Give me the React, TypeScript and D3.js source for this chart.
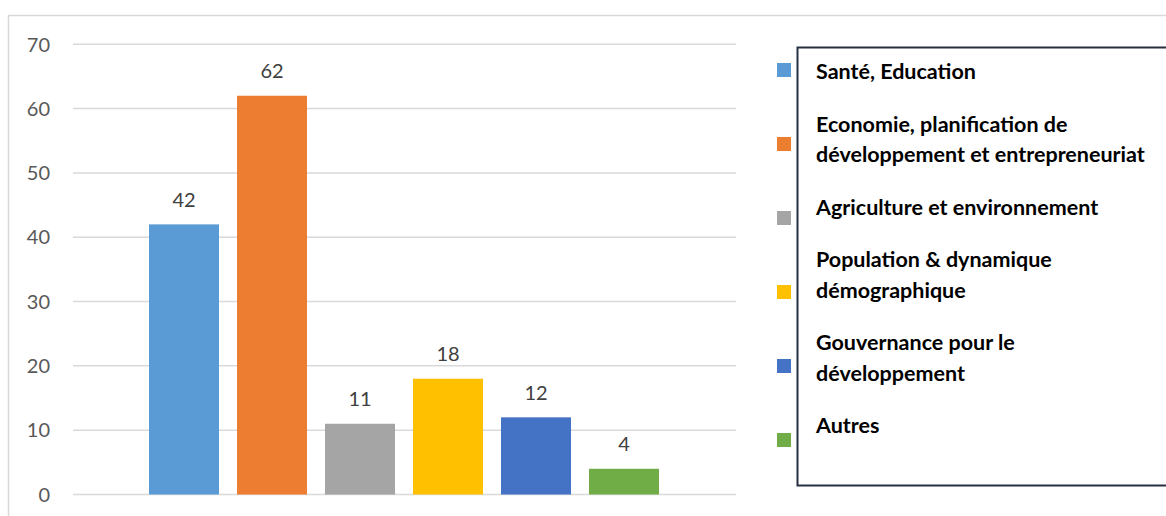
import React from "react";
import * as d3 from "d3";

const categories = [
  "Santé, Education",
  "Economie, planification de développement et entrepreneuriat",
  "Agriculture et environnement",
  "Population & dynamique démographique",
  "Gouvernance pour le développement",
  "Autres",
];
const legendLines = [
  ["Santé, Education"],
  ["Economie, planification de", "développement et entrepreneuriat"],
  ["Agriculture et environnement"],
  ["Population & dynamique", "démographique"],
  ["Gouvernance pour le", "développement"],
  ["Autres"],
];
const values = [42, 62, 11, 18, 12, 4];
const colors = ["#5B9BD5", "#ED7D31", "#A5A5A5", "#FFC000", "#4472C4", "#70AD47"];
const yTicks = [0, 10, 20, 30, 40, 50, 60, 70];

export default function App() {
  const W = 1166, H = 516;
  const plotL = 73, plotR = 736;
  const y = d3.scaleLinear().domain([0, 70]).range([494.5, 44.3]);
  const x = d3.scaleBand<string>().domain(categories).range([149, 659]).paddingInner(18 / 88).paddingOuter(0);
  const legY = d3.scaleLinear().domain([0, 5]).range([70, 440]);
  const font = "Lato, 'Open Sans', sans-serif";
  const lh = 30.5, gap = 52.5;
  let base = 79;
  const baselines: number[][] = legendLines.map((lines) => {
    const b = lines.map((_, j) => base + j * lh);
    base = b[b.length - 1] + gap;
    return b;
  });
  return (
    <svg width={W} height={H} style={{ position: "absolute", left: 0, top: 0, background: "#fff" }}>
      <rect x={8.5} y={15.5} width={1300} height={700} fill="#fff" stroke="#d9d9d9" strokeWidth={1.5} />
      {yTicks.map((t) => (
        <g key={t}>
          <line x1={plotL} x2={plotR} y1={y(t)} y2={y(t)} stroke="#d9d9d9" strokeWidth={1.5} />
          <text x={50} y={y(t)} dy="0.36em" textAnchor="end" fontFamily={font} fontSize={20} fill="#595959">
            {t}
          </text>
        </g>
      ))}
      {categories.map((c, i) => (
        <g key={c}>
          <rect x={x(c)} y={y(values[i])} width={x.bandwidth()} height={y(0) - y(values[i])} fill={colors[i]} />
          <text x={(x(c) as number) + x.bandwidth() / 2} y={y(values[i]) - 17.5} textAnchor="middle" fontFamily={font} fontSize={20} fill="#404040">
            {values[i]}
          </text>
        </g>
      ))}
      <rect x={797.5} y={47.5} width={500} height={438} fill="none" stroke="#263040" strokeWidth={2} />
      {legendLines.map((lines, i) => {
        const cy = legY(i);
        return (
          <g key={i}>
            <rect x={777} y={cy - 7} width={14} height={14} fill={colors[i]} />
            {lines.map((l, j) => (
              <text key={j} x={816} y={baselines[i][j]} fontFamily={font} fontWeight={700} fontSize={21.5} fill="#000">
                {l}
              </text>
            ))}
          </g>
        );
      })}
    </svg>
  );
}
